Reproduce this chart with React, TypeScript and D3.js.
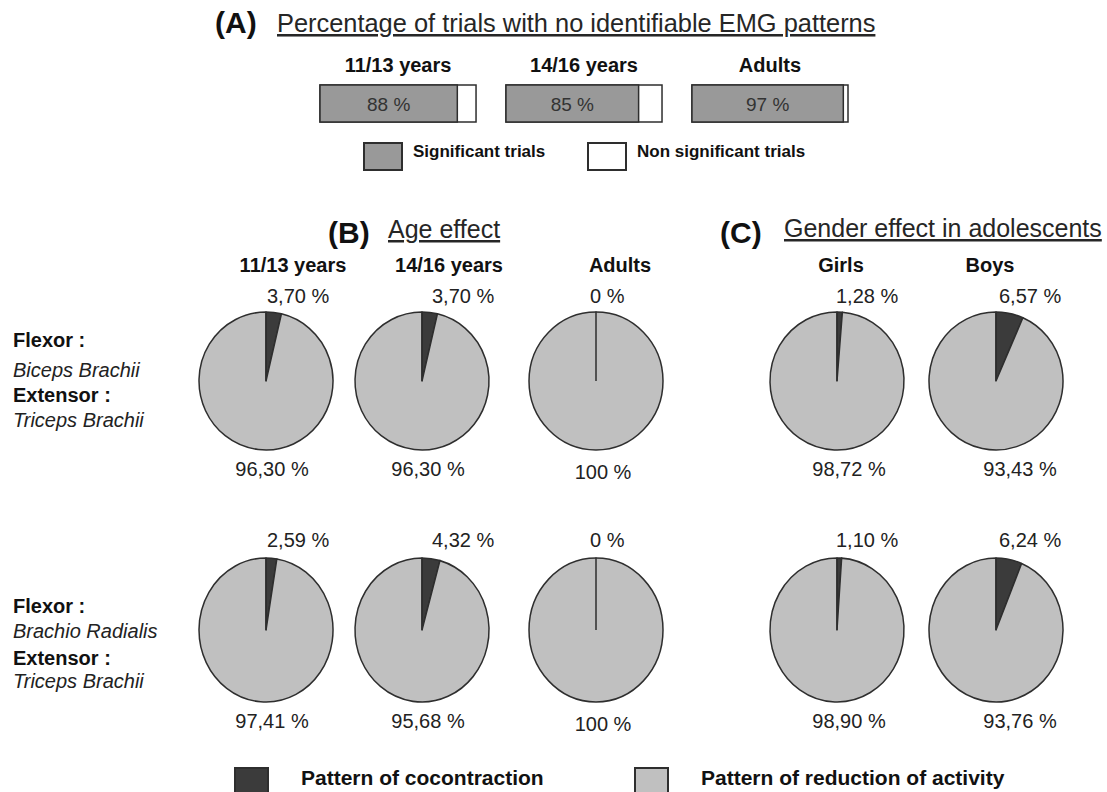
import * as d3 from "d3";

// ---- data ----
const ageGroups = ["11/13 years", "14/16 years", "Adults"];
const significantPct = [88, 85, 97];
const legendA = ["Significant trials", "Non significant trials"];

const pieGroups = ["11/13 years", "14/16 years", "Adults", "Girls", "Boys"];
const flexorNames = ["Biceps Brachii", "Brachio Radialis"];
const extensorNames = ["Triceps Brachii", "Triceps Brachii"];
const cocontractionRow1 = [3.7, 3.7, 0, 1.28, 6.57];
const reductionRow1 = [96.3, 96.3, 100, 98.72, 93.43];
const cocontractionRow2 = [2.59, 4.32, 0, 1.1, 6.24];
const reductionRow2 = [97.41, 95.68, 100, 98.9, 93.76];
const legendB = ["Pattern of cocontraction", "Pattern of reduction of activity"];

// ---- layout ----
const W = 1107;
const H = 792;
const font = "'Liberation Sans', Arial, sans-serif";
const pieX = [266, 422, 596, 837, 996];
const groupLabelX = [293, 449, 620, 841, 990];
const topLabelDx = [1, 10, -6, -1, 3];
const bottomLabelDx = [6, 6, 7, 12, 24];
const rows = [
  { cy: 381, ry: 69, top: 303, bottom: 476, text: [347, 377, 402, 427] },
  { cy: 630, ry: 72, top: 547, bottom: 728, text: [613, 638, 665, 688] },
];
const R = 67;

const DARK = "#3b3b3b";
const LIGHT = "#c0c0c0";
const BAR = "#999999";
const STROKE = "#2e2e2e";

const fmt = (v: number) =>
  v === 0 || v === 100 ? `${v} %` : `${v.toFixed(2).replace(".", ",")} %`;

export default function App() {
  const barBand = d3.scaleBand().domain(ageGroups).range([320, 848]).paddingInner(0.161);
  const barFill = d3.scaleLinear().domain([0, 100]).range([0, barBand.bandwidth()]);

  const pie = d3
    .pie<number>()
    .value((d) => d)
    .sort(null);
  const arc = d3.arc<d3.PieArcDatum<number>>().innerRadius(0).outerRadius(R);

  const rowData = [
    [cocontractionRow1, reductionRow1],
    [cocontractionRow2, reductionRow2],
  ];

  return (
    <svg
      width={W}
      height={H}
      style={{ position: "absolute", left: 0, top: 0, background: "#fff" }}
      fontFamily={font}
    >
      {/* (A) */}
      <text x={215} y={33} fontSize={30} fontWeight="bold" fill="#111">
        (A)
      </text>
      <text x={277} y={32} fontSize={25.4} fill="#262626" textDecoration="underline">
        Percentage of trials with no identifiable EMG patterns
      </text>
      {ageGroups.map((g, i) => {
        const x = barBand(g)!;
        const bw = barBand.bandwidth();
        const sig = barFill(significantPct[i]);
        return (
          <g key={g}>
            <text
              x={x + bw / 2}
              y={72}
              textAnchor="middle"
              fontSize={20}
              fontWeight="bold"
              fill="#111"
            >
              {g}
            </text>
            <rect x={x} y={85} width={bw} height={37} fill="#fff" stroke={STROKE} strokeWidth={1.5} />
            <rect x={x} y={85} width={sig} height={37} fill={BAR} stroke={STROKE} strokeWidth={1.5} />
            <text x={x + sig / 2} y={111} textAnchor="middle" fontSize={19} fill="#333">
              {significantPct[i]} %
            </text>
          </g>
        );
      })}
      {legendA.map((l, i) => {
        const x = [364, 588][i];
        return (
          <g key={l}>
            <rect x={x} y={143} width={38} height={27} fill={i === 0 ? BAR : "#fff"} stroke={STROKE} strokeWidth={2} />
            <text x={x + 49} y={157} fontSize={17} fontWeight="bold" fill="#111">
              {l}
            </text>
          </g>
        );
      })}

      {/* (B) and (C) headers */}
      <text x={328} y={243} fontSize={30} fontWeight="bold" fill="#111">
        (B)
      </text>
      <text x={388} y={238} fontSize={25} fill="#262626" textDecoration="underline">
        Age effect
      </text>
      <text x={720} y={243} fontSize={30} fontWeight="bold" fill="#111">
        (C)
      </text>
      <text x={784} y={237} fontSize={25} fill="#262626" textDecoration="underline">
        Gender effect in adolescents
      </text>
      {pieGroups.map((g, i) => (
        <text
          key={g + i}
          x={groupLabelX[i]}
          y={272}
          textAnchor="middle"
          fontSize={20}
          fontWeight="bold"
          fill="#111"
        >
          {g}
        </text>
      ))}

      {/* muscle labels + pies */}
      {rows.map((row, r) => (
        <g key={r}>
          <text x={13} y={row.text[0]} fontSize={20} fontWeight="bold" fill="#111">
            Flexor :
          </text>
          <text x={13} y={row.text[1]} fontSize={20} fontStyle="italic" fill="#222">
            {flexorNames[r]}
          </text>
          <text x={13} y={row.text[2]} fontSize={20} fontWeight="bold" fill="#111">
            Extensor :
          </text>
          <text x={13} y={row.text[3]} fontSize={20} fontStyle="italic" fill="#222">
            {extensorNames[r]}
          </text>
          {pieGroups.map((g, i) => {
            const co = rowData[r][0][i];
            const red = rowData[r][1][i];
            const slices = pie([co, red]);
            const [ex, ey] = d3.pointRadial(slices[0].startAngle, R);
            return (
              <g key={g + i}>
                <text x={pieX[i] + topLabelDx[i]} y={row.top} fontSize={20} fill="#222">
                  {fmt(co)}
                </text>
                <g transform={`translate(${pieX[i]},${row.cy}) scale(1,${row.ry / R})`}>
                  {slices.map((s, k) => (
                    <path
                      key={k}
                      d={arc(s) || ""}
                      fill={k === 0 ? DARK : LIGHT}
                      stroke={STROKE}
                      strokeWidth={1.5}
                      strokeLinejoin="round"
                    />
                  ))}
                  <line x1={0} y1={0} x2={ex} y2={ey} stroke={STROKE} strokeWidth={1.5} />
                </g>
                <text
                  x={pieX[i] + bottomLabelDx[i]}
                  y={row.bottom + (co === 0 ? 3 : 0)}
                  textAnchor="middle"
                  fontSize={20}
                  fill="#222"
                >
                  {fmt(red)}
                </text>
              </g>
            );
          })}
        </g>
      ))}

      {/* bottom legend */}
      {legendB.map((l, i) => {
        const x = [235, 635][i];
        return (
          <g key={l}>
            <rect x={x} y={768} width={33} height={32} fill={i === 0 ? DARK : LIGHT} stroke={STROKE} strokeWidth={2} />
            <text x={x + 66} y={785} fontSize={21} fontWeight="bold" fill="#111">
              {l}
            </text>
          </g>
        );
      })}
    </svg>
  );
}
